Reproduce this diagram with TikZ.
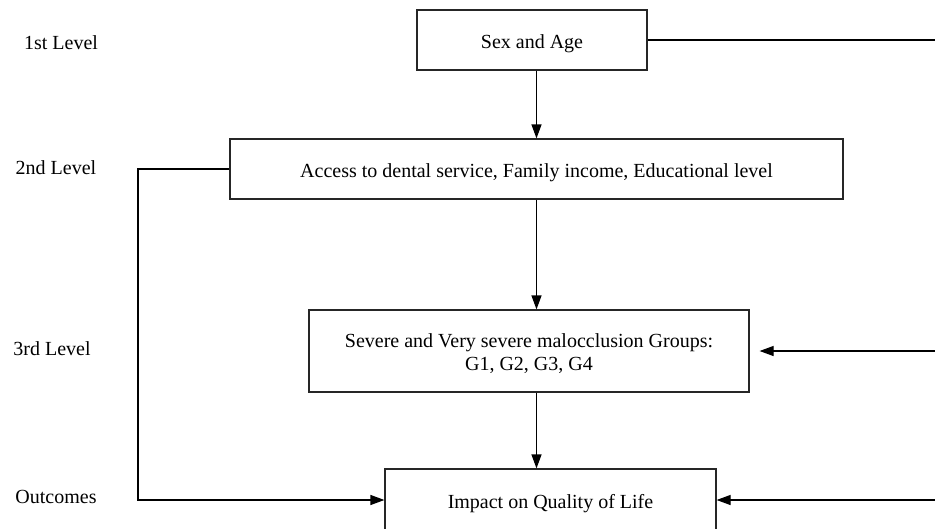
\documentclass[tikz,border=0pt]{standalone}
\usepackage{fontspec}
\setmainfont{Liberation Serif}
\usepackage{tikz}
\usetikzlibrary{arrows.meta,positioning,calc}

\begin{document}
\begin{tikzpicture}[
    x=1pt, y=-1pt,
    font=\fontsize{20}{23}\selectfont,
    level/.style={draw=black!85, line width=1.2pt, fill=white, inner sep=0pt, align=center, text height=16pt, text depth=0pt},
    arrow/.style={-{Triangle[length=14pt, width=10pt]}, line width=1.2pt}
]
\clip (0,0) rectangle (935,528);

% Levels
\node (l1) at (61,43) {1st Level};
\node (l2) at (56,168) {2nd Level};
\node (l3) at (52,349) {3rd Level};
\node (l4) at (56,497) {Outcomes};

% Boxes
\node[level, minimum width=230pt, minimum height=60pt] (sexage) at (532,40) {Sex and Age};
\node[level, minimum width=613pt, minimum height=60pt] (access) at (536.5,169) {Access to dental service, Family income, Educational level};
\node[level, minimum width=440pt, minimum height=82pt, text height=38pt] (groups) at (529,351) {Severe and Very severe malocclusion Groups:\\ G1, G2, G3, G4};
\node[level, minimum width=331pt, minimum height=62pt] (impact) at (550.5,500) {Impact on Quality of Life};

% Free ends
\coordinate (r1) at (935,40);
\coordinate (r3) at (935,351);
\coordinate (r4) at (935,500);
\coordinate (lc) at (138,500);

% Arrows
\draw[line width=1.2pt] (sexage.east) -- (r1);
\draw[arrow] (sexage.south -| access.north) -- (access.north);
\draw[arrow] (access.south) -- (access.south |- groups.north);
\draw[arrow] (groups.south -| access.south) -- (access.south |- impact.north);
\draw[arrow, shorten >=10pt] (r3) -- (groups.east);
\draw[arrow] (r4) -- (impact.east);
\draw[arrow] (access.west) -| (lc) -- (impact.west);

\end{tikzpicture}
\end{document}
